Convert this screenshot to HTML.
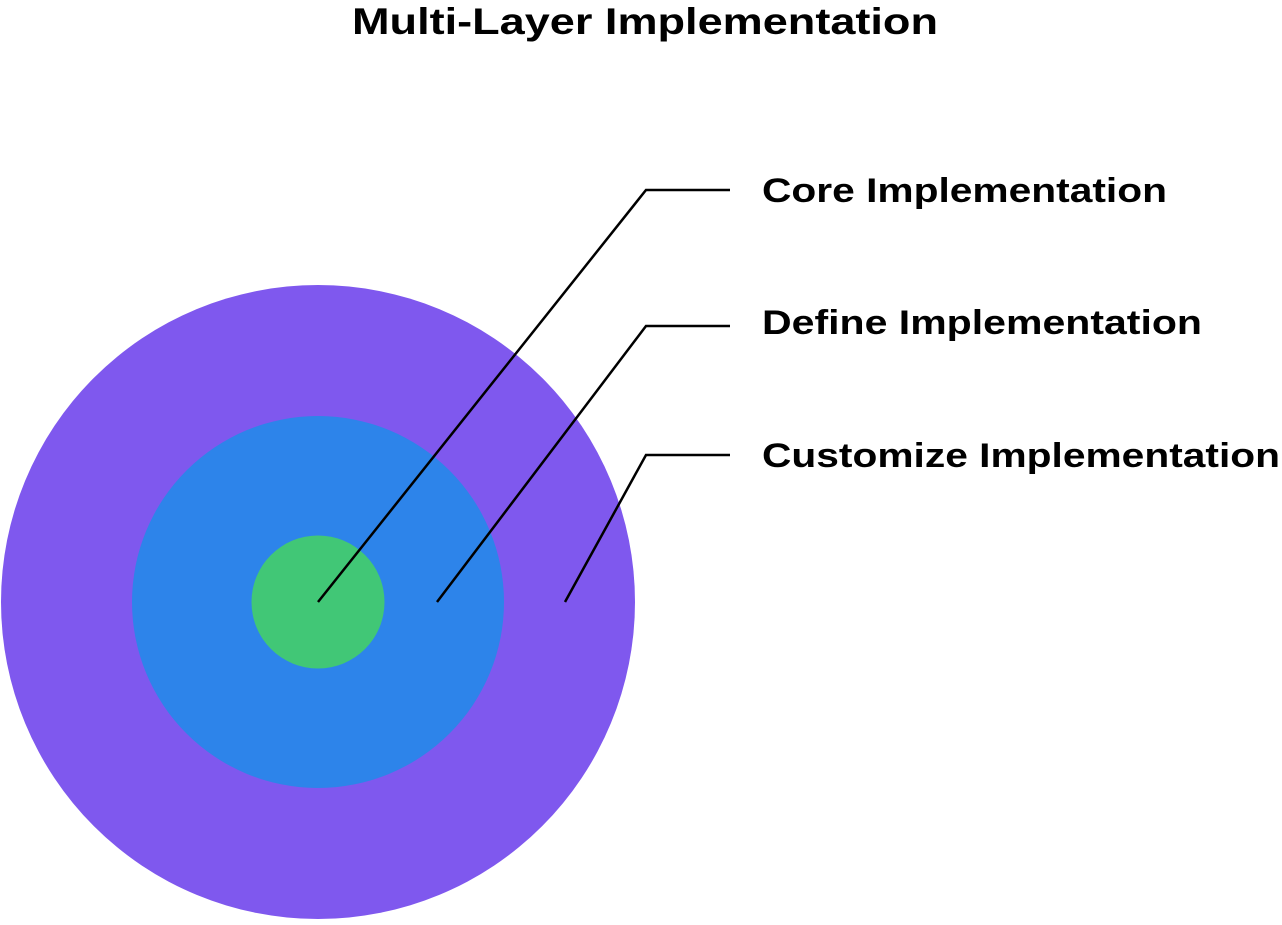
<!DOCTYPE html>
<html><head><meta charset="utf-8"><style>
html,body{margin:0;padding:0;background:#fff;}
body{width:1282px;height:920px;overflow:hidden;}
</style></head><body>
<svg width="1282" height="920" viewBox="0 0 1282 920" xmlns="http://www.w3.org/2000/svg">
<text x="352" y="34" textLength="586" lengthAdjust="spacingAndGlyphs" font-family="Liberation Sans, sans-serif" font-weight="bold" font-size="37" fill="#000">Multi-Layer Implementation</text>
<circle cx="318" cy="602" r="317" fill="#7f58ee"/>
<circle cx="318" cy="602" r="186" fill="#2d84ea"/>
<circle cx="318" cy="602" r="66.5" fill="#41c776"/>
<g fill="none" stroke="#000" stroke-width="2.5">
<polyline points="318,602 646,190 730,190"/>
<polyline points="437,602 646,326 730,326"/>
<polyline points="565,602 646,455 730,455"/>
</g>
<g font-family="Liberation Sans, sans-serif" font-weight="bold" font-size="34" fill="#000" lengthAdjust="spacingAndGlyphs">
<text x="762" y="202" textLength="405" lengthAdjust="spacingAndGlyphs">Core Implementation</text>
<text x="762" y="334" textLength="440" lengthAdjust="spacingAndGlyphs">Define Implementation</text>
<text x="762" y="467" textLength="518" lengthAdjust="spacingAndGlyphs">Customize Implementation</text>
</g>
</svg>
</body></html>
